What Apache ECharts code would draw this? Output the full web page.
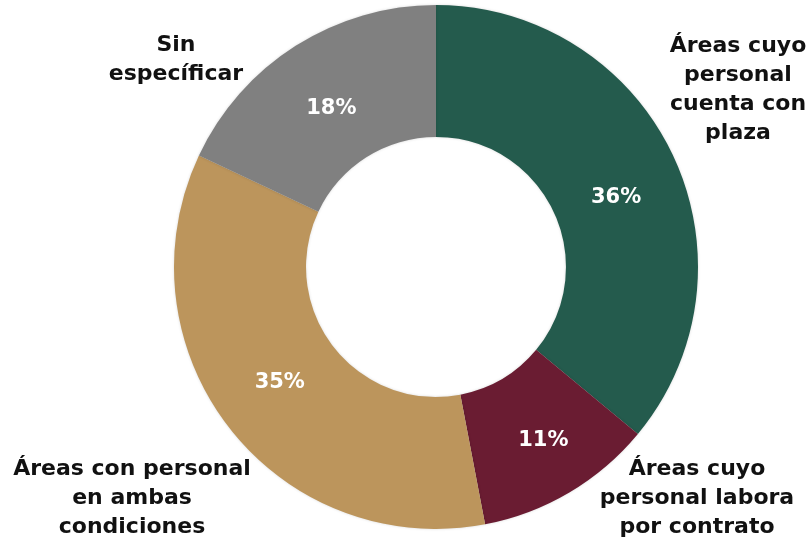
<!DOCTYPE html>
<html>
<head>
<meta charset="utf-8">
<script src="https://cdn.jsdelivr.net/npm/echarts@6/dist/echarts.min.js"></script>
<style>
  html, body { margin: 0; padding: 0; background: #fff; }
  #chart { width: 812px; height: 541px; }
</style>
</head>
<body>
<div id="chart"></div>
<script>
const categories = [
  'Áreas cuyo\npersonal\ncuenta con\nplaza',
  'Áreas cuyo\npersonal labora\npor contrato',
  'Áreas con personal\nen ambas\ncondiciones',
  'Sin\nespecíficar'
];
const shares = [36, 11, 35, 18];
const colors = ['#245B4D', '#6A1C32', '#BC955C', '#808080'];

// where the outside captions sit (centre of each text block)
const captionPos = [[738, 90], [697, 498], [132, 498], [176, 60]];
// small nudges for the percentage labels
const pctNudge = [[0, 15], [6, 2], [1, -6], [2, 10]];

const chart = echarts.init(document.getElementById('chart'));
const pieData = categories.map((c, i) => ({
  name: c,
  value: shares[i],
  itemStyle: { color: colors[i] }
}));

const font = '"DejaVu Sans", sans-serif';

chart.setOption({
  backgroundColor: '#fff',
  animation: false,
  series: [
    {
      type: 'pie',
      center: [436, 267],
      radius: [130, 262],
      startAngle: 90,
      clockwise: true,
      data: pieData,
      itemStyle: {
        shadowBlur: 3,
        shadowColor: 'rgba(0,0,0,0.15)'
      },
      label: {
        position: 'inside',
        formatter: p => p.value + '%',
        color: '#fff',
        fontFamily: font,
        fontWeight: 'bold',
        fontSize: 21
      },
      labelLine: { show: false },
      labelLayout: p => ({
        dx: pctNudge[p.dataIndex][0],
        dy: pctNudge[p.dataIndex][1]
      })
    },
    {
      type: 'pie',
      center: [436, 267],
      radius: [130, 262],
      startAngle: 90,
      clockwise: true,
      silent: true,
      z: 3,
      data: pieData.map(d => ({ name: d.name, value: d.value, itemStyle: { color: 'transparent' } })),
      label: {
        position: 'outside',
        formatter: p => p.name,
        color: '#111',
        fontFamily: font,
        fontWeight: 'bold',
        fontSize: 22,
        lineHeight: 29,
        align: 'center',
        overflow: 'none'
      },
      labelLine: { show: false },
      labelLayout: p => ({
        x: captionPos[p.dataIndex][0],
        y: captionPos[p.dataIndex][1],
        align: 'center',
        verticalAlign: 'middle'
      })
    }
  ]
});
</script>
</body>
</html>
